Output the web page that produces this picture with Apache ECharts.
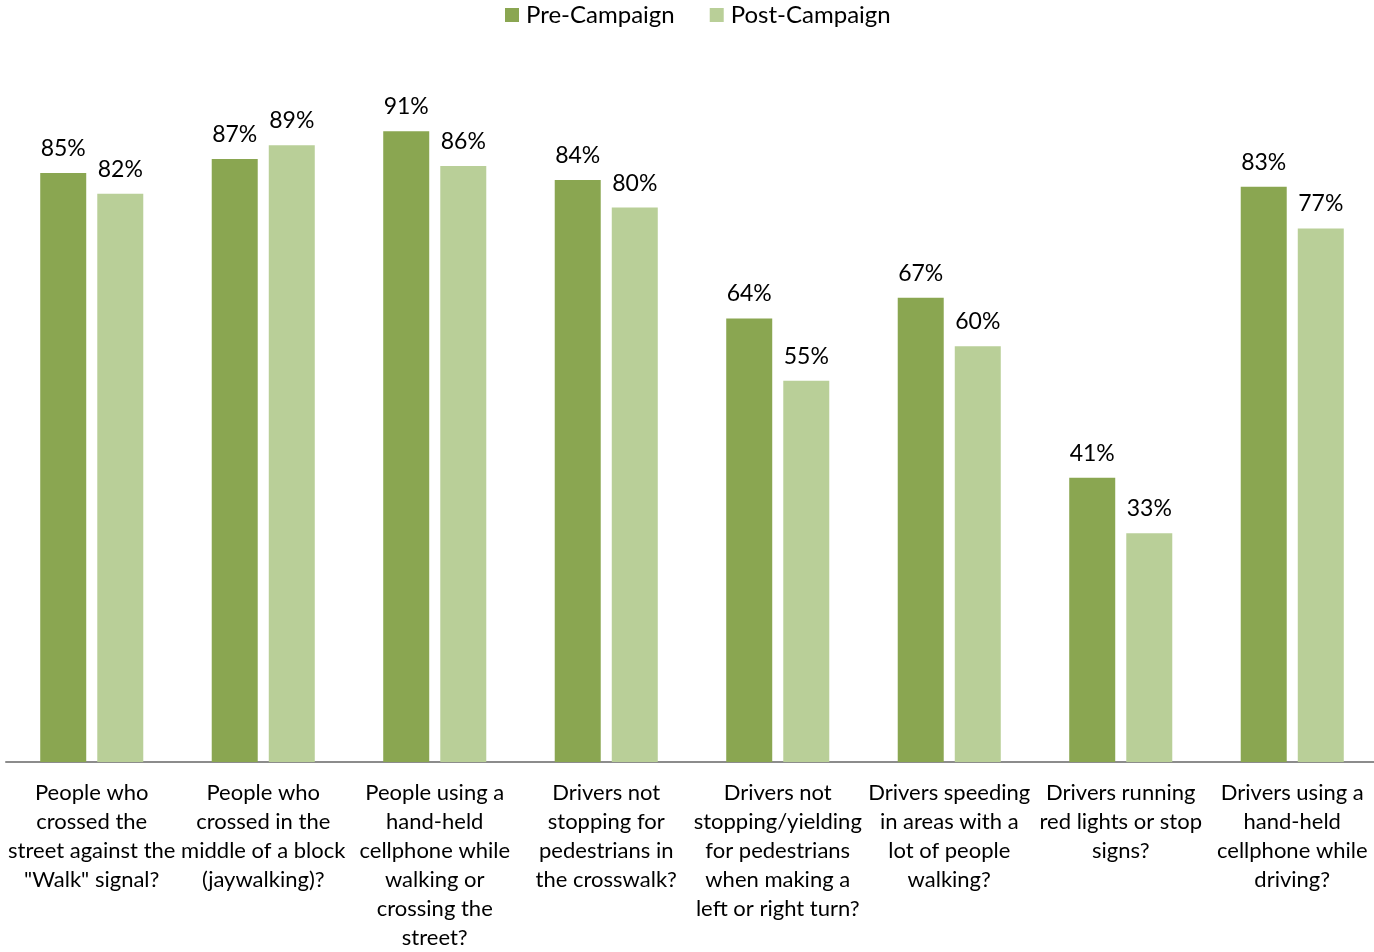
<!DOCTYPE html>
<html>
<head>
<meta charset="utf-8">
<style>
  html, body { margin: 0; padding: 0; background: #ffffff; }
  #chart { width: 1374px; height: 952px; }
</style>
<script src="https://cdn.jsdelivr.net/npm/echarts@6/dist/echarts.min.js"></script>
</head>
<body>
<div id="chart"></div>
<script>
// Survey questions shown along the category axis
const categories = [
  'People who\ncrossed the\nstreet against the\n"Walk" signal?',
  'People who\ncrossed in the\nmiddle of a block\n(jaywalking)?',
  'People using a\nhand-held\ncellphone while\nwalking or\ncrossing the\nstreet?',
  'Drivers not\nstopping for\npedestrians in\nthe crosswalk?',
  'Drivers not\nstopping/yielding\nfor pedestrians\nwhen making a\nleft or right turn?',
  'Drivers speeding\nin areas with a\nlot of people\nwalking?',
  'Drivers running\nred lights or stop\nsigns?',
  'Drivers using a\nhand-held\ncellphone while\ndriving?'
];

// Percent of respondents, before and after the campaign
const preCampaign = [85, 87, 91, 84, 64, 67, 41, 83];
const postCampaign = [82, 89, 86, 80, 55, 60, 33, 77];

const seriesNames = ['Pre-Campaign', 'Post-Campaign'];

const FONT = 'Lato, "Open Sans", sans-serif';

const chart = echarts.init(document.getElementById('chart'));

const labelStyle = {
  show: true,
  position: 'top',
  distance: 13,
  formatter: '{c}%',
  color: '#000000',
  fontFamily: FONT,
  fontSize: 23
};

chart.setOption({
  animation: false,
  textStyle: { fontFamily: FONT },
  legend: {
    top: -2,
    left: 500,
    itemWidth: 14,
    itemHeight: 14,
    itemGap: 35,
    icon: 'rect',
    textStyle: { fontFamily: FONT, fontSize: 24, color: '#000000', padding: [0, 0, 0, 2] },
    data: seriesNames
  },
  grid: {
    left: 6,
    right: -4,
    top: 69,
    bottom: 190,
    containLabel: false,
    outerBoundsMode: 'none'
  },
  xAxis: {
    type: 'category',
    data: categories,
    axisLine: { lineStyle: { color: '#8c8c8c', width: 2 } },
    axisTick: { show: false },
    axisLabel: {
      interval: 0,
      margin: 16,
      color: '#000000',
      fontFamily: FONT,
      fontSize: 22,
      lineHeight: 29,
      align: 'center'
    }
  },
  yAxis: {
    type: 'value',
    min: 0,
    max: 100,
    show: false,
    splitLine: { show: false }
  },
  series: [
    {
      name: seriesNames[0],
      type: 'bar',
      data: preCampaign,
      barWidth: 46,
      barGap: '24%',
      itemStyle: { color: '#8aa651' },
      label: labelStyle
    },
    {
      name: seriesNames[1],
      type: 'bar',
      data: postCampaign,
      barWidth: 46,
      barGap: '24%',
      itemStyle: { color: '#b9cf98' },
      label: labelStyle
    }
  ]
});
</script>
</body>
</html>
